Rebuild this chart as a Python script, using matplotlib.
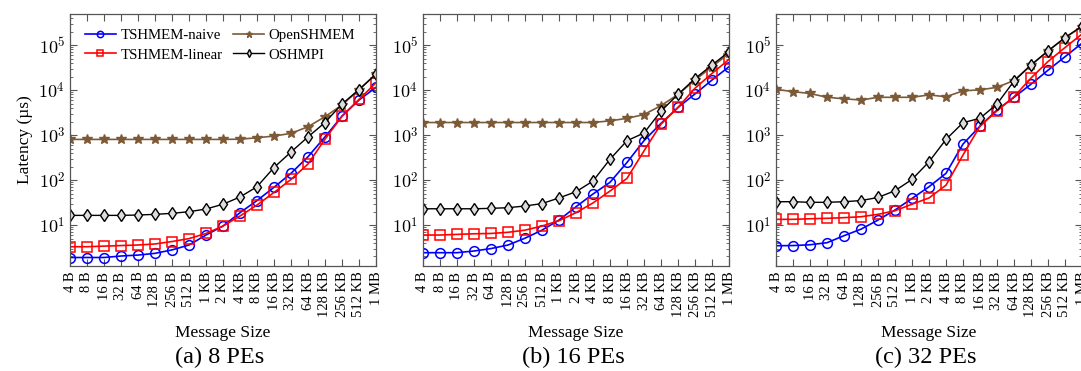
import matplotlib
matplotlib.use("Agg")
import matplotlib.pyplot as plt
import matplotlib.ticker as mticker
import numpy as np

plt.rcParams['font.family'] = ['Liberation Serif', 'DejaVu Serif']
plt.rcParams['mathtext.fontset'] = 'cm'

sizes = ['4 B', '8 B', '16 B', '32 B', '64 B', '128 B', '256 B', '512 B',
         '1 KB', '2 KB', '4 KB', '8 KB', '16 KB', '32 KB', '64 KB',
         '128 KB', '256 KB', '512 KB', '1 MB']

# 8 PEs
naive_8 = [1.9, 1.9, 1.9, 2.05, 2.15, 2.35, 2.8, 3.6, 6.0, 9.5, 18.8, 35, 69,
           141, 330, 910, 2630, 6000, 11500]
linear_8 = [3.3, 3.3, 3.4, 3.5, 3.6, 3.8, 4.3, 5.0, 6.5, 9.5, 15.9, 27.8, 53,
            103, 227, 810, 2630, 6200, 14500]
openshmem_8 = [800, 800, 800, 800, 800, 800, 800, 800, 800, 800, 810, 870,
               950, 1090, 1530, 2560, 4650, 10200, 22700]
oshmpi_8 = [16.4, 16.4, 16.4, 16.4, 16.7, 17.3, 18.2, 19.8, 22.7, 29, 42, 71,
            190, 420, 910, 1900, 4900, 10200, 22700]

# 16 PEs
naive_16 = [2.43, 2.43, 2.43, 2.65, 3.0, 3.6, 5.1, 7.7, 12.9, 25.5, 49, 89,
            246, 750, 1820, 4100, 8200, 16700, 33000]
linear_16 = [6.0, 6.0, 6.2, 6.4, 6.5, 6.9, 7.7, 9.5, 12.5, 18.8, 31, 57, 109,
             445, 1750, 4100, 11000, 23400, 48000]
openshmem_16 = [1900, 1900, 1900, 1900, 1900, 1900, 1900, 1900, 1900, 1900,
                1900, 2070, 2350, 2860, 4500, 8000, 16700, 33000, 65000]
oshmpi_16 = [23, 23, 23, 23, 23.5, 24.3, 26.5, 30, 40, 55, 95, 290, 750, 1110,
             3400, 8000, 18000, 36000, 71000]

# 32 PEs
naive_32 = [3.47, 3.5, 3.65, 4.05, 5.8, 8.1, 12.9, 21.6, 39, 71, 141, 630,
            1580, 3600, 6900, 13500, 27600, 55000, 110000]
linear_32 = [13.4, 13.4, 13.8, 14.1, 14.6, 15.3, 17.3, 20.8, 29, 40, 77, 360,
             1580, 3450, 7100, 18500, 43000, 88000, 176000]
openshmem_32 = [10400, 9200, 8400, 6900, 6400, 6000, 6900, 6900, 6900, 7800,
                7100, 9600, 10100, 11500, 16300, 36000, 74000, 146000, 255000]
oshmpi_32 = [33, 33, 32, 32, 33, 35, 41, 58, 103, 255, 800, 1880, 2360, 4900,
             15800, 36000, 74000, 146000, 265000]

panels = [
    ('(a) 8 PEs', naive_8, linear_8, openshmem_8, oshmpi_8),
    ('(b) 16 PEs', naive_16, linear_16, openshmem_16, oshmpi_16),
    ('(c) 32 PEs', naive_32, linear_32, openshmem_32, oshmpi_32),
]

brown = '#7d5a37'
W, H = 1081, 371
fig = plt.figure(figsize=(W / 100, H / 100), dpi=100)

lefts = [70, 423, 776]
ax_w = 306
top_px, bot_px = 14, 266

x = np.arange(len(sizes))
for i, (caption, naive, linear, oshmem, oshmpi) in enumerate(panels):
    ax = fig.add_axes([lefts[i] / W, (H - bot_px) / H, ax_w / W,
                       (bot_px - top_px) / H])
    ax.plot(x, naive, color='blue', marker='o', mfc='none', ms=7, mew=1.1,
            lw=1.2, label='TSHMEM-naive')
    ax.plot(x, linear, color='red', marker='s', mfc='none', ms=7, mew=1.1,
            lw=1.2, label='TSHMEM-linear')
    ax.plot(x, oshmem, color=brown, marker='*', ms=7, lw=1.2,
            label='OpenSHMEM')
    ax.plot(x, oshmpi, color='black', marker='d', mfc='#dddddd', ms=6,
            mew=1.0, lw=1.0, label='OSHMPI')

    ax.set_yscale('log')
    ax.set_ylim(1.23, 4.9e5)
    ax.set_xlim(0, len(sizes) - 1)
    ax.set_xticks(x)
    ax.set_xticklabels(sizes, rotation=90, fontsize=10.5)
    ax.yaxis.set_major_locator(mticker.LogLocator(base=10, numticks=10))
    ax.yaxis.set_minor_locator(mticker.LogLocator(base=10, subs=np.arange(2, 10),
                                                  numticks=10))
    ax.yaxis.set_major_formatter(mticker.FuncFormatter(
        lambda v, p: r'$10^{%d}$' % round(np.log10(v))))
    ax.yaxis.set_minor_formatter(mticker.NullFormatter())
    ax.tick_params(axis='both', which='both', direction='in', top=True,
                   right=True, colors='#555555', labelcolor='black')
    ax.tick_params(axis='y', which='major', length=5, labelsize=13)
    ax.tick_params(axis='y', which='minor', length=2.5)
    ax.tick_params(axis='x', which='major', length=5, pad=4)
    for s in ax.spines.values():
        s.set_color('#555555')
        s.set_linewidth(0.9)

    cx = (lefts[i] + ax_w / 2) / W
    fig.text(cx, 1 - 333 / H, 'Message Size', ha='center', va='center',
             fontsize=12.5)
    fig.text(cx - 3 / W, 1 - 357 / H, caption, ha='center', va='center',
             fontsize=17.5)

    if i == 0:
        ax.set_ylabel('Latency (µs)', fontsize=12.5, labelpad=4)
        ax.legend(loc='upper left', ncol=2, frameon=False, fontsize=10.7,
                  handlelength=2.1, columnspacing=0.7, handletextpad=0.3,
                  labelspacing=0.4, borderaxespad=0.6, markerscale=0.65,
                  bbox_to_anchor=(0.0, 1.0))

fig.savefig('out.png', dpi=100)
